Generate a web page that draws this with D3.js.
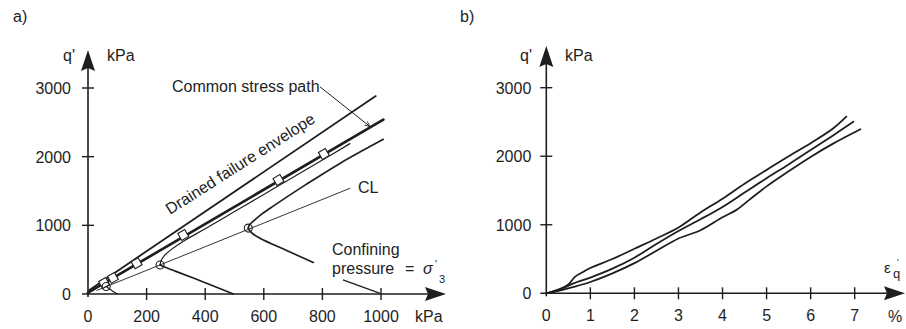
<!DOCTYPE html>
<html><head><meta charset="utf-8">
<script src="https://cdn.jsdelivr.net/npm/d3@7"></script>
<style>body{margin:0;background:#fff} svg{display:block} text{font-family:"Liberation Sans",Arial,sans-serif;fill:#1e1e1e}</style>
</head><body><svg id="c" width="906" height="329"></svg>
<script>
// ---- data ----
const xTicksA=[0,200,400,600,800,1000];
const yTicks=[0,1000,2000,3000];
const xTicksB=[0,1,2,3,4,5,6,7];
const envelope=[[5,60],[982,2882]];
const commonPath=[[0,20],[1008,2540]];
const path500Up=[[246,422],[250,490],[262,565],[285,650],[330,780],[400,950],[500,1200],[600,1450],[700,1700],[800,1950],[894,2190]];
const path500Down=[[246,422],[262,392],[300,330],[400,165],[496,0]];
const path1000Up=[[547,960],[550,1000],[564,1060],[595,1170],[632,1280],[746,1600],[860,1902],[1008,2252]];
const path1000Down=[[547,960],[556,900],[587,811],[680,630],[769,460]];
const path100Up=[[62,110],[64,150],[75,200],[90,240]];
const path100Down=[[62,110],[75,70],[100,0]];
const critLine=[[30,52],[894,1539]];
const squares=[[55,160],[85,235],[166,447],[325,860],[650,1659],[805,2040]];
const circles=[[62,110],[246,422],[547,960]];
const curveTop=[[0,0],[0.3,60],[0.5,130],[0.65,240],[0.8,300],[1,370],[1.5,500],[2,650],[2.5,800],[3,960],[3.5,1180],[4,1380],[4.5,1600],[5,1800],[5.5,2000],[6,2190],[6.5,2400],[6.81,2577]];
const curveMid=[[0,0],[0.3,50],[0.6,140],[1,230],[1.5,360],[2,520],[2.5,720],[3,910],[3.5,1080],[4,1260],[4.5,1470],[5,1680],[5.5,1880],[6,2090],[6.5,2300],[6.97,2504]];
const curveBot=[[0,0],[0.3,40],[0.6,90],[1,165],[1.5,290],[2,440],[2.5,620],[3,800],[3.5,920],[4,1110],[4.3,1210],[4.6,1360],[5,1560],[5.5,1780],[6,1990],[6.5,2180],[7.13,2393]];

const svg=d3.select("#c");
const ink="#1e1e1e";
const FS=16;
// scales
const xa=d3.scaleLinear().domain([0,1000]).range([88,381]);
const ya=d3.scaleLinear().domain([0,3000]).range([294,88]);
const xb=d3.scaleLinear().domain([0,7]).range([546.3,854.7]);
const yb=d3.scaleLinear().domain([0,3000]).range([293.3,87.7]);

function axes(x,y,xt,ytop,xtip,labOff){
  const g=svg.append("g");
  const x0=x(0), y0=y(0);
  g.append("line").attr("x1",x0-6).attr("x2",xtip-10).attr("y1",y0).attr("y2",y0).attr("stroke",ink).attr("stroke-width",1.6);
  g.append("line").attr("x1",x0).attr("x2",x0).attr("y1",y0+3).attr("y2",ytop+10).attr("stroke",ink).attr("stroke-width",1.6);
  g.append("path").attr("d",`M${x0},${ytop}L${x0-7},${ytop+21}L${x0},${ytop+18}L${x0+7},${ytop+21}Z`).attr("fill",ink);
  g.append("path").attr("d",`M${xtip},${y0}L${xtip-21},${y0-7}L${xtip-18},${y0}L${xtip-21},${y0+7}Z`).attr("fill",ink);
  yTicks.forEach(t=>{
    if(t>0) g.append("line").attr("x1",x0-6).attr("x2",x0+6).attr("y1",y(t)).attr("y2",y(t)).attr("stroke",ink).attr("stroke-width",1.4);
    g.append("text").attr("x",x0-labOff).attr("y",y(t)+6).attr("text-anchor","end").attr("font-size",FS).text(t);
  });
  xt.forEach(t=>{
    if(t>0) g.append("line").attr("x1",x(t)).attr("x2",x(t)).attr("y1",y0-6).attr("y2",y0+6).attr("stroke",ink).attr("stroke-width",1.4);
    g.append("text").attr("x",x(t)).attr("y",y0+28).attr("text-anchor","middle").attr("font-size",FS).text(t);
  });
}
axes(xa,ya,xTicksA,50,446,17);
axes(xb,yb,xTicksB,46,905,15);

// labels
function txt(x,y,s,size,anchor){return svg.append("text").attr("x",x).attr("y",y).attr("font-size",size||FS).attr("text-anchor",anchor||"start").text(s);}
txt(13,22,"a)");
txt(460,22,"b)");
txt(63,61,"q'");
txt(107,61,"kPa");
txt(520,61,"q'");
txt(565,61,"kPa");
txt(415,322,"kPa");
txt(895,322,"%",FS,"middle");
txt(884,273,"ε",15);
txt(893,278,"q",13);
txt(897,265,"'",9);

// panel a lines
const la=d3.line().x(d=>xa(d[0])).y(d=>ya(d[1]));
const lac=d3.line().x(d=>xa(d[0])).y(d=>ya(d[1])).curve(d3.curveCatmullRom);
function draw(data,gen,w){svg.append("path").attr("d",gen(data)).attr("fill","none").attr("stroke",ink).attr("stroke-width",w).attr("stroke-linecap","round");}
draw(envelope,la,1.8);
draw(commonPath,la,2.7);
draw(critLine,la,0.9);
draw(path500Up,lac,1.2);
draw(path500Down,lac,1.7);
draw(path1000Up,lac,1.7);
draw(path1000Down,lac,1.7);
draw(path100Up,lac,1.1);
draw(path100Down,lac,1.1);

squares.forEach(d=>{
  svg.append("rect").attr("x",-4).attr("y",-4).attr("width",8).attr("height",8)
   .attr("transform",`translate(${xa(d[0])},${ya(d[1])}) rotate(-30)`)
   .attr("fill","#fff").attr("stroke",ink).attr("stroke-width",1.1);
});
circles.forEach(d=>{
  svg.append("circle").attr("cx",xa(d[0])).attr("cy",ya(d[1])).attr("r",4).attr("fill","none").attr("stroke",ink).attr("stroke-width",1.1);
});

// annotations
txt(172,92,"Common stress path");
svg.append("defs").append("marker").attr("id","ah").attr("viewBox","0 0 10 10").attr("refX",9).attr("refY",5)
  .attr("markerWidth",6).attr("markerHeight",6).attr("orient","auto")
  .append("path").attr("d","M0,1L9,5L0,9").attr("fill","none").attr("stroke",ink).attr("stroke-width",1.3);
svg.append("line").attr("x1",xa(792)).attr("y1",ya(3017)).attr("x2",xa(962)).attr("y2",ya(2440))
  .attr("stroke",ink).attr("stroke-width",1).attr("marker-end","url(#ah)");
svg.append("text").attr("transform","translate(170,215) rotate(-32.5)").attr("font-size",FS).text("Drained failure envelope");
txt(358,193,"CL");
txt(332,255,"Confining");
txt(332,274,"pressure");
txt(405,274,"=");
svg.append("text").attr("x",423).attr("y",274).attr("font-size",FS).attr("font-style","italic").text("σ");
txt(435,268,"'",11);
txt(439,283,"3",11);
svg.append("line").attr("x1",xa(870)).attr("y1",ya(205)).attr("x2",xa(997)).attr("y2",ya(10)).attr("stroke",ink).attr("stroke-width",1.4);

// panel b curves
const lb=d3.line().x(d=>xb(d[0])).y(d=>yb(d[1])).curve(d3.curveCatmullRom);
draw(curveTop,lb,1.8);
draw(curveMid,lb,1.8);
draw(curveBot,lb,1.8);
</script></body></html>
